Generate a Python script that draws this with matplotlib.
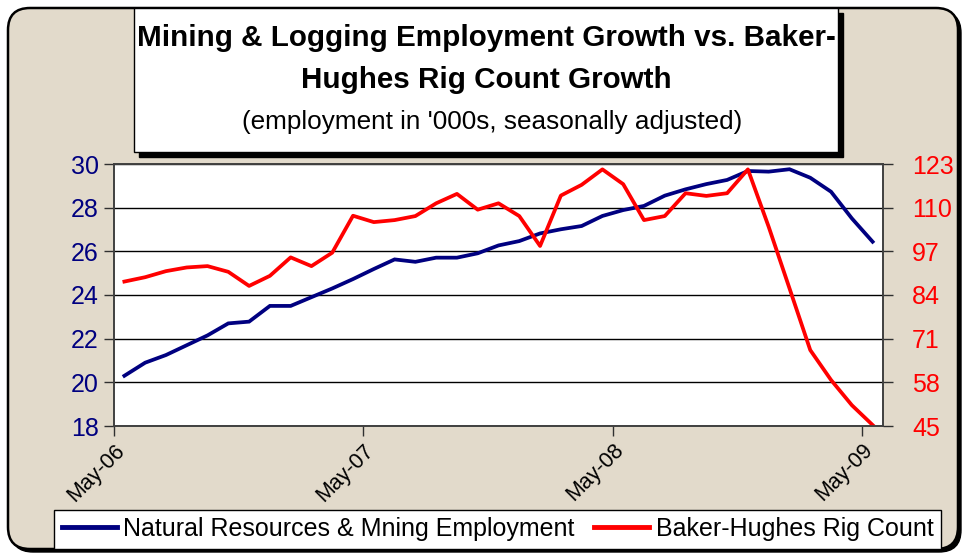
import numpy as np
import matplotlib
matplotlib.use('Agg')
import matplotlib.pyplot as plt
from matplotlib.patches import FancyBboxPatch, Rectangle
from matplotlib.lines import Line2D

plt.rcParams['font.family'] = ['Liberation Sans', 'DejaVu Sans']

#monthly data, May-06 .. May-09
months = ['May-06', 'Jun-06', 'Jul-06', 'Aug-06', 'Sep-06', 'Oct-06', 'Nov-06', 'Dec-06',
          'Jan-07', 'Feb-07', 'Mar-07', 'Apr-07', 'May-07', 'Jun-07', 'Jul-07', 'Aug-07',
          'Sep-07', 'Oct-07', 'Nov-07', 'Dec-07', 'Jan-08', 'Feb-08', 'Mar-08', 'Apr-08',
          'May-08', 'Jun-08', 'Jul-08', 'Aug-08', 'Sep-08', 'Oct-08', 'Nov-08', 'Dec-08',
          'Jan-09', 'Feb-09', 'Mar-09', 'Apr-09', 'May-09']

employment = [20.3, 20.9, 21.25, 21.7, 22.15, 22.7, 22.78, 23.5, 23.5, 23.9,
              24.3, 24.73, 25.19, 25.63, 25.52, 25.71, 25.71, 25.91, 26.27, 26.47,
              26.82, 27.01, 27.16, 27.62, 27.89, 28.08, 28.55, 28.84, 29.08, 29.27,
              29.68, 29.65, 29.76, 29.37, 28.73, 27.51, 26.44]

rig_count = [88.0, 89.3, 91.1, 92.2, 92.6, 90.9, 86.7, 89.7, 95.2, 92.6,
             96.6, 107.6, 105.7, 106.3, 107.5, 111.3, 114.1, 109.4, 111.3, 107.5,
             98.6, 113.6, 116.8, 121.4, 117.0, 106.3, 107.5, 114.3, 113.5, 114.3,
             121.4, 104.3, 86.0, 67.6, 58.7, 51.2, 45.3]

left_ticks = [18, 20, 22, 24, 26, 28, 30]
right_ticks = [45, 58, 71, 84, 97, 110, 123]
tick_labels = ['May-06', 'May-07', 'May-08', 'May-09']

W, H = 964, 554
fig = plt.figure(figsize=(W/100, H/100), dpi=100)
fig.patch.set_facecolor('white')

#background layer in pixel coordinates
bg = fig.add_axes([0, 0, 1, 1])
bg.set_xlim(0, W)
bg.set_ylim(H, 0)
bg.axis('off')
bg.add_patch(FancyBboxPatch((11, 11), 950, 541, boxstyle='round,pad=0,rounding_size=22',
                            facecolor='black', edgecolor='black', lw=1))
bg.add_patch(FancyBboxPatch((8, 8), 950, 541, boxstyle='round,pad=0,rounding_size=22',
                            facecolor='#e2dacb', edgecolor='black', lw=1.8))

#title box with shadow
bg.add_patch(Rectangle((139, 13), 704, 144, facecolor='black', edgecolor='black'))
bg.add_patch(Rectangle((134, 8), 704, 144, facecolor='white', edgecolor='black', lw=1))
bg.text(486, 38, 'Mining & Logging Employment Growth vs. Baker-', ha='center', va='center',
        fontsize=21.3, fontweight='bold')
bg.text(486, 80, 'Hughes Rig Count Growth', ha='center', va='center',
        fontsize=21.3, fontweight='bold')
bg.text(492, 122, "(employment in '000s, seasonally adjusted)", ha='center', va='center',
        fontsize=18.8)

#main plot
x = np.arange(len(months))
ax = fig.add_axes([114/W, 1-426/H, (883-114)/W, (426-164)/H])
ax.set_facecolor('white')
ax.plot(x, employment, color='#000080', lw=2.7, solid_joinstyle='miter')
ax.set_ylim(18, 30)
ax.set_yticks(left_ticks)
ax.set_yticklabels([str(t) for t in left_ticks], color='#000080', fontsize=18)
ax.grid(axis='y', color='black', lw=1)
ax.set_axisbelow(True)
ax.set_xlim(-0.5, len(months)-0.5)
ax.set_xticks([-0.5, 11.5, 23.5, 35.5])
ax.set_xticklabels(tick_labels, rotation=45, ha='right', va='top', fontsize=15.5,
                   rotation_mode='anchor')
ax.tick_params(axis='both', direction='out', length=7, width=1, color='#303030', pad=4)
ax.tick_params(axis='x', pad=3)

ax2 = ax.twinx()
ax2.plot(x, rig_count, color='#ff0000', lw=2.7)
ax2.set_ylim(45, 123)
ax2.set_yticks(right_ticks)
ax2.set_yticklabels([str(t) for t in right_ticks], color='#ff0000', fontsize=18)
ax2.tick_params(axis='y', direction='out', length=7, width=1, color='#303030', pad=14)

for a in (ax, ax2):
    for s in a.spines.values():
        s.set_color('#404040')
        s.set_linewidth(1.2)

#legend
handles = [Line2D([], [], color='#000080', lw=3.5),
           Line2D([], [], color='#ff0000', lw=3.5)]
leg = fig.legend(handles, ['Natural Resources & Mning Employment', 'Baker-Hughes Rig Count'],
                 loc='center', bbox_to_anchor=(58/W, 1-550/H, (937-58)/W, 42/H),
                 ncol=2, frameon=True, fancybox=False, fontsize=18, handlelength=2.2,
                 handletextpad=0.25, columnspacing=0.8, borderaxespad=0, borderpad=0.3,
                 framealpha=1)
leg.get_frame().set_edgecolor('black')
leg.get_frame().set_linewidth(1)
leg.get_frame().set_facecolor('white')

fig.savefig('out.png', dpi=100)
